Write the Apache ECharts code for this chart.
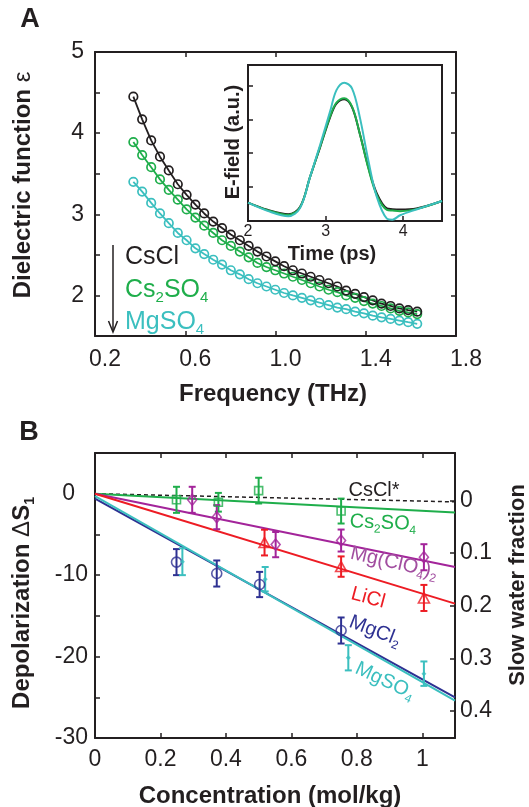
<!DOCTYPE html>
<html><head><meta charset="utf-8">
<script src="https://cdn.jsdelivr.net/npm/echarts@6/dist/echarts.min.js"></script>
<style>html,body{margin:0;padding:0;background:#fff}#c{width:529px;height:807px}</style>
</head><body><div id="c"></div>
<script>
// ---------- Panel A: dielectric function vs frequency ----------
const freqTHz = [0.370,0.409,0.449,0.488,0.527,0.567,0.606,0.645,0.684,0.724,0.763,0.802,0.842,0.881,0.920,0.960,0.999,1.038,1.077,1.117,1.156,1.195,1.235,1.274,1.313,1.353,1.392,1.431,1.470,1.510,1.549,1.588,1.628];
const epsCsCl   = [4.45,4.17,3.91,3.71,3.54,3.37,3.24,3.12,3.01,2.91,2.83,2.75,2.68,2.61,2.54,2.48,2.42,2.36,2.31,2.27,2.23,2.19,2.15,2.11,2.06,2.02,1.98,1.94,1.90,1.87,1.84,1.82,1.80];
const epsCs2SO4 = [3.89,3.73,3.58,3.43,3.30,3.18,3.06,2.96,2.86,2.77,2.68,2.61,2.54,2.47,2.40,2.35,2.31,2.27,2.23,2.19,2.15,2.11,2.07,2.04,2.00,1.97,1.93,1.90,1.87,1.84,1.81,1.79,1.77];
const epsMgSO4  = [3.40,3.28,3.14,3.01,2.89,2.77,2.68,2.58,2.51,2.44,2.38,2.31,2.26,2.20,2.15,2.11,2.07,2.03,2.00,1.97,1.94,1.91,1.88,1.85,1.83,1.80,1.78,1.75,1.73,1.71,1.69,1.67,1.65];
const freqTicks = [0.2, 0.6, 1.0, 1.4, 1.8];

// ---------- Inset: E-field vs time ----------
const timePs      = [2.00,2.25,2.52,2.67,2.80,2.93,3.06,3.14,3.24,3.34,3.44,3.55,3.66,3.79,3.86,3.96,4.17,4.50];
const efCsCl      = [0.54,0.33,0.20,0.41,1.30,2.18,3.07,3.46,3.59,3.36,2.58,1.59,0.81,0.37,0.35,0.34,0.37,0.59];
const efCs2SO4    = [0.54,0.32,0.18,0.40,1.30,2.20,3.10,3.49,3.62,3.38,2.58,1.56,0.76,0.33,0.31,0.29,0.35,0.59];
const efMgSO4     = [0.54,0.30,0.14,0.38,1.30,2.25,3.25,3.86,4.08,3.91,3.07,1.79,0.71,0.07,0.04,0.17,0.34,0.59];

// ---------- Panel B: depolarization vs concentration ----------
const fitConc     = [0, 1.1];
const fitCsCl     = [0, -1.0];
const fitCs2SO4   = [0, -2.3];
const fitMgClO4   = [0, -9.0];
const fitLiCl     = [0, -13.5];
const fitMgCl2    = [-0.6, -25.0];
const fitMgSO4    = [-0.3, -25.4];

const concCs2SO4 = [0.249, 0.377, 0.500, 0.752];
const dsCs2SO4   = [-0.75, -1.05, 0.38, -2.13];
const errCs2SO4  = [1.6, 1.15, 1.58, 1.53];

const concMgClO4 = [0.297, 0.372, 0.552, 0.752, 1.005];
const dsMgClO4   = [-0.75, -2.88, -6.25, -5.75, -7.8];
const errMgClO4  = [1.6, 1.48, 1.55, 1.35, 1.6];

const concLiCl = [0.518, 0.752, 1.005];
const dsLiCl   = [-6.0, -8.95, -12.8];
const errLiCl  = [1.58, 1.25, 1.6];

const concMgCl2 = [0.249, 0.372, 0.503, 0.752];
const dsMgCl2   = [-8.4, -9.8, -11.15, -16.8];
const errMgCl2  = [1.6, 1.6, 1.55, 1.6];

const concMgSO4 = [0.267, 0.520, 0.774, 1.005];
const dsMgSO4   = [-8.35, -10.5, -20.15, -22.1];
const errMgSO4  = [1.65, 1.5, 1.55, 1.5];

const slowFracTicks = [0, 0.1, 0.2, 0.3, 0.4];

// ---------- styling ----------
const FONT = "'Liberation Sans', Arial, Helvetica, sans-serif";
const K = '#231f20', GREEN = '#1fae4b', CYAN = '#3bbfbf', RED = '#ed1c24', MAG = '#a3249a', BLUE = '#2e3192';
const MAGTXT = '#a24ea0';

function axisBase(extra) {
  const base = {
    type: 'value',
    axisLine: { show: true, onZero: false, lineStyle: { color: K, width: 2 } },
    axisTick: { show: true, inside: true, length: 5, lineStyle: { color: K, width: 1.5 } },
    splitLine: { show: false },
    axisLabel: { show: false }
  };
  return Object.assign(base, extra);
}
function lbl(fs, margin, formatter, extra) {
  return Object.assign({ show: true, fontSize: fs, fontFamily: FONT, color: K, margin: margin,
    formatter: formatter, showMinLabel: true, showMaxLabel: true, hideOverlap: false }, extra || {});
}
const isMult = (v, m) => Math.abs(v / m - Math.round(v / m)) < 1e-6;

function richStyles(F, S, color, weight, shift) {
  const L = Math.round(F * 1.25);
  const LS = L - 2 * (0.3465 * F + shift * F - 0.3465 * S);
  return {
    n: { fontSize: F, fontFamily: FONT, fontWeight: weight, fill: color, lineHeight: L },
    g: { fontSize: F, fontFamily: FONT, fontWeight: 'normal', fill: color, lineHeight: L },
    s: { fontSize: S, fontFamily: FONT, fontWeight: weight, fill: color, lineHeight: LS, verticalAlign: 'bottom' }
  };
}
function T(x, y, text, F, color, opt) {
  opt = opt || {};
  const S = opt.sub || Math.round(F * 0.6);
  const align = opt.align || 'center';
  return {
    type: 'text', x: x, y: y, rotation: (opt.rot || 0),
    z: 100,
    style: {
      text: text,
      rich: richStyles(F, S, color, opt.weight || 'normal', opt.shift == null ? 0.08 : opt.shift),
      align: align, textAlign: align, verticalAlign: 'middle', textVerticalAlign: 'middle',
      fontSize: F, fontFamily: FONT, fontWeight: opt.weight || 'normal', fill: color
    }
  };
}
const deg = d => d * Math.PI / 180;

function lineSeriesA(ys, color) {
  return {
    type: 'line', xAxisIndex: 0, yAxisIndex: 0,
    data: freqTHz.map((f, i) => [f, ys[i]]),
    symbol: 'circle', symbolSize: 8.5, showSymbol: true,
    lineStyle: { color: color, width: 1.8 },
    itemStyle: { color: 'rgba(255,255,255,0)', borderColor: color, borderWidth: 1.7 },
    z: 3, silent: true
  };
}
function insetSeries(ys, color, z) {
  return {
    type: 'line', xAxisIndex: 2, yAxisIndex: 2,
    data: timePs.map((t, i) => [t, ys[i]]),
    smooth: 0.35, symbol: 'none',
    lineStyle: { color: color, width: 2 }, z: z, silent: true
  };
}
function fitSeries(ys, color, dashed, z) {
  return {
    type: 'line', xAxisIndex: 3, yAxisIndex: 3,
    data: fitConc.map((c, i) => [c, ys[i]]),
    symbol: 'none',
    lineStyle: { color: color, width: dashed ? 1.5 : 2, type: dashed ? [4, 3] : 'solid' },
    z: z, silent: true
  };
}
function errSeries(xs, ys, es, color) {
  return {
    type: 'custom', xAxisIndex: 3, yAxisIndex: 3, z: 6, silent: true,
    data: xs.map((x, i) => [x, ys[i], es[i]]),
    encode: { x: 0, y: 1 },
    renderItem: function (params, api) {
      const x = api.value(0), y = api.value(1), e = api.value(2);
      const a = api.coord([x, y + e]), b = api.coord([x, y - e]);
      const w = 3.5, st = { stroke: color, lineWidth: 2 };
      return { type: 'group', children: [
        { type: 'line', shape: { x1: a[0], y1: a[1], x2: b[0], y2: b[1] }, style: st },
        { type: 'line', shape: { x1: a[0] - w, y1: a[1], x2: a[0] + w, y2: a[1] }, style: st },
        { type: 'line', shape: { x1: b[0] - w, y1: b[1], x2: b[0] + w, y2: b[1] }, style: st }
      ]};
    }
  };
}
function markSeries(xs, ys, color, symbol, size, filled) {
  return {
    type: 'scatter', xAxisIndex: 3, yAxisIndex: 3, z: 7, silent: true,
    data: xs.map((x, i) => [x, ys[i]]),
    symbol: symbol, symbolSize: size,
    itemStyle: filled ? { color: color } : { color: 'rgba(255,255,255,0)', borderColor: color, borderWidth: 1.6 }
  };
}

const option = {
  animation: false,
  backgroundColor: '#fff',
  grid: [
    { left: 95, top: 52, width: 361, height: 284, outerBoundsMode: 'none', containLabel: false },
    { left: 248, top: 65, width: 194, height: 156, outerBoundsMode: 'none', containLabel: false,
      show: true, backgroundColor: '#fff', borderColor: K, borderWidth: 2 },
    { left: 95, top: 453, width: 360, height: 285, outerBoundsMode: 'none', containLabel: false }
  ],
  xAxis: [
    axisBase({ gridIndex: 0, min: freqTicks[0], max: freqTicks[freqTicks.length - 1], interval: 0.4, position: 'bottom',
      axisLabel: lbl(23, 12, v => v.toFixed(1), { padding: [0, 0, 0, 20] }) }),
    axisBase({ gridIndex: 0, min: freqTicks[0], max: freqTicks[freqTicks.length - 1], interval: 0.4, position: 'top' }),
    axisBase({ gridIndex: 1, min: 2, max: 4.5, interval: 1, position: 'bottom',
      axisLabel: lbl(16, 3, v => isMult(v, 1) ? String(Math.round(v)) : '') }),
    axisBase({ gridIndex: 2, min: 0, max: 1.1, interval: 0.2, position: 'bottom',
      axisLabel: lbl(23, 10, v => isMult(v, 0.2) ? String(+v.toFixed(1)) : '') }),
    axisBase({ gridIndex: 2, min: 0, max: 1.1, interval: 0.2, position: 'top' })
  ],
  yAxis: [
    axisBase({ gridIndex: 0, min: 1.5, max: 5, interval: 0.5, position: 'left',
      axisLabel: lbl(23, 11, v => isMult(v, 1) ? String(Math.round(v)) : '') }),
    axisBase({ gridIndex: 0, min: 1.5, max: 5, interval: 0.5, position: 'right' }),
    axisBase({ gridIndex: 1, min: 0, max: 4.6, interval: 1, position: 'left' }),
    axisBase({ gridIndex: 2, min: -30, max: 5, interval: 5, position: 'left',
      axisLabel: lbl(23, 7, v => {
        if (!isMult(v, 10)) return '';
        const r = Math.round(v);
        return r === 0 ? '{z|0}' : String(r);
      }, { rich: { z: { fontSize: 23, fontFamily: FONT, color: K, padding: [0, 13, 0, 0] } } }) }),
    axisBase({ gridIndex: 2, min: -0.0903, max: 0.4514, inverse: true, position: 'right',
      axisTick: { show: true, inside: true, length: 5, customValues: slowFracTicks, lineStyle: { color: K, width: 1.5 } },
      axisLabel: lbl(23, 5, v => String(+(+v).toFixed(2)), { customValues: slowFracTicks }) })
  ],
  series: [
    lineSeriesA(epsMgSO4, CYAN),
    lineSeriesA(epsCs2SO4, GREEN),
    lineSeriesA(epsCsCl, K),
    insetSeries(efCsCl, K, 5),
    insetSeries(efCs2SO4, GREEN, 6),
    insetSeries(efMgSO4, CYAN, 7),
    fitSeries(fitCsCl, K, true, 3),
    fitSeries(fitCs2SO4, GREEN, false, 3),
    fitSeries(fitMgClO4, MAG, false, 3),
    fitSeries(fitLiCl, RED, false, 3),
    fitSeries(fitMgCl2, BLUE, false, 3),
    fitSeries(fitMgSO4, CYAN, false, 4),
    errSeries(concCs2SO4, dsCs2SO4, errCs2SO4, GREEN),
    errSeries(concMgClO4, dsMgClO4, errMgClO4, MAG),
    errSeries(concLiCl, dsLiCl, errLiCl, RED),
    errSeries(concMgCl2, dsMgCl2, errMgCl2, BLUE),
    errSeries(concMgSO4, dsMgSO4, errMgSO4, CYAN),
    markSeries(concCs2SO4, dsCs2SO4, GREEN, 'rect', 8, false),
    markSeries(concMgClO4, dsMgClO4, MAG, 'diamond', [9, 11], false),
    markSeries(concLiCl, dsLiCl, RED, 'triangle', [11, 10], false),
    markSeries(concMgCl2, dsMgCl2, BLUE, 'circle', 10, false),
    markSeries(concMgSO4, dsMgSO4, CYAN, 'diamond', 5, true)
  ],
  graphic: { elements: [
    T(30, 20, '{n|A}', 27, K, { weight: 'bold' }),
    T(29, 433, '{n|B}', 27, K, { weight: 'bold' }),
    T(23, 185, '{n|Dielectric function }{g|ε}', 24, K, { weight: 'bold', rot: deg(90) }),
    T(273, 394, '{n|Frequency (THz)}', 24, K, { weight: 'bold' }),
    T(233, 142, '{n|E-field (a.u.)}', 20, K, { weight: 'bold', rot: deg(90) }),
    T(332, 254, '{n|Time (ps)}', 20, K, { weight: 'bold' }),
    T(125, 257, '{n|CsCl}', 25, K, { align: 'left' }),
    T(125, 290, '{n|Cs}{s|2}{n|SO}{s|4}', 25, GREEN, { align: 'left', sub: 15 }),
    T(125, 322, '{n|MgSO}{s|4}', 25, CYAN, { align: 'left', sub: 15 }),
    { type: 'line', z: 100, shape: { x1: 113, y1: 245, x2: 113, y2: 331 }, style: { stroke: K, lineWidth: 1.5 } },
    { type: 'polyline', z: 100, shape: { points: [[108.5, 321], [113, 332], [117.5, 321]] }, style: { stroke: K, lineWidth: 1.5, fill: null } },
    T(270, 796, '{n|Concentration (mol/kg)}', 24, K, { weight: 'bold' }),
    T(22, 603, '{n|Depolarization }{g|Δ}{n|S}{s|1}', 24, K, { weight: 'bold', rot: deg(90), sub: 14 }),
    T(518, 585, '{n|Slow water fraction}', 22, K, { weight: 'bold', rot: deg(90) }),
    T(374, 490, '{n|CsCl*}', 20, K),
    T(383, 523, '{n|Cs}{s|2}{n|SO}{s|4}', 20, GREEN, { rot: deg(-2), sub: 12 }),
    T(394, 563, '{n|Mg(ClO}{s|4}{n|)}{s|2}', 20, MAGTXT, { rot: deg(-13), sub: 12 }),
    T(368, 598, '{n|LiCl}', 20, RED, { rot: deg(-15) }),
    T(375, 631, '{n|MgCl}{s|2}', 20, BLUE, { rot: deg(-21), sub: 12 }),
    T(385, 681, '{n|MgSO}{s|4}', 20, CYAN, { rot: deg(-25), sub: 12 })
  ]}
};

const chart = echarts.init(document.getElementById('c'), null, { renderer: 'canvas', width: 529, height: 807 });
chart.setOption(option);
</script>
</body></html>
